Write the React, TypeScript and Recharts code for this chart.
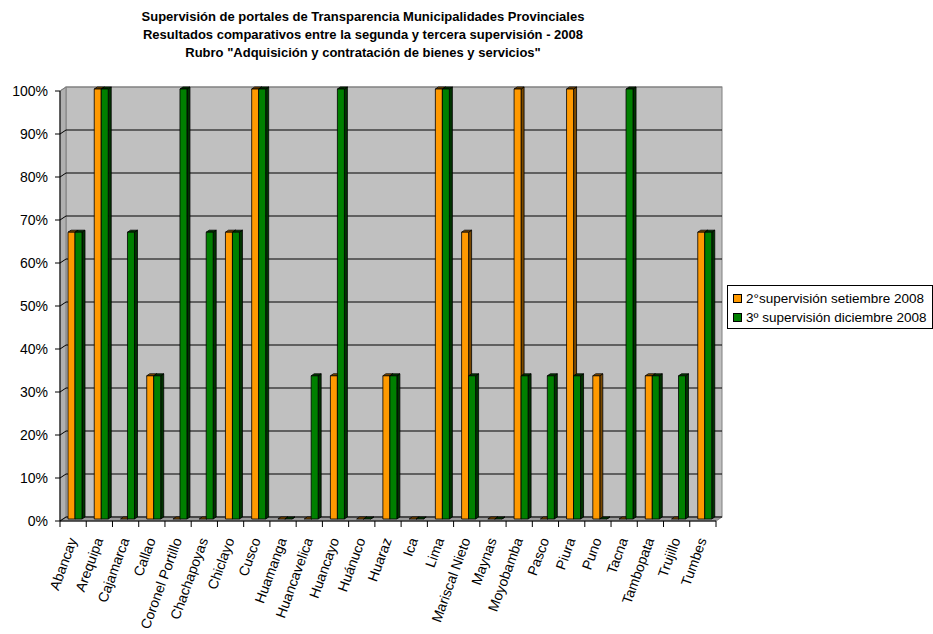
import { Bar, BarChart, CartesianGrid, Legend, XAxis, YAxis } from "recharts"

const categories = [
  "Abancay", "Arequipa", "Cajamarca", "Callao", "Coronel Portillo", "Chachapoyas", "Chiclayo",
  "Cusco", "Huamanga", "Huancavelica", "Huancayo", "Huánuco", "Huaraz", "Ica", "Lima",
  "Mariscal Nieto", "Maynas", "Moyobamba", "Pasco", "Piura", "Puno", "Tacna", "Tambopata",
  "Trujillo", "Tumbes",
]

// 2da supervisión (setiembre 2008)
const segunda = [
  0.667, 1, 0, 0.333, 0, 0, 0.667, 1, 0, 0, 0.333, 0, 0.333, 0, 1,
  0.667, 0, 1, 0, 1, 0.333, 0, 0.333, 0, 0.667,
]

// 3ra supervisión (diciembre 2008)
const tercera = [
  0.667, 1, 0.667, 0.333, 1, 0.667, 0.667, 1, 0, 0.333, 1, 0, 0.333, 0, 1,
  0.333, 0, 0.333, 0.333, 0.333, 0, 1, 0.333, 0.333, 0.667,
]

const seriesNames = ["2°supervisión setiembre 2008", "3º supervisión diciembre 2008"]
const yTicks = [0, 0.1, 0.2, 0.3, 0.4, 0.5, 0.6, 0.7, 0.8, 0.9, 1]
const titleLines = [
  "Supervisión de portales de Transparencia Municipalidades Provinciales",
  "Resultados comparativos entre la segunda y tercera supervisión - 2008",
  "Rubro \"Adquisición y contratación de bienes y servicios\"",
]

const data = categories.map((name, i) => ({ name, segunda: segunda[i], tercera: tercera[i] }))

const FONT = "'Liberation Sans', Arial, sans-serif"
const W = 933
const H = 634
// front plot box
const LEFT = 60
const RIGHT = 716
const TOP = 91
const BOTTOM = 521
// wall depth
const DX = 6
const DY = 4

const colors = [
  { front: "#FF9900", side: "#7A4900", top: "#8C5400" },
  { front: "#008000", side: "#003300", top: "#004000" },
]

// back wall, side wall and floor sit in an svg under the chart
function Walls() {
  return (
    <svg width={W} height={H} style={{ position: "absolute", left: 0, top: 0 }}>
      <rect x={LEFT + DX} y={TOP - DY} width={RIGHT - LEFT} height={BOTTOM - TOP} fill="#C0C0C0" stroke="#808080" />
      <polygon
        points={`${LEFT},${TOP} ${LEFT + DX},${TOP - DY} ${LEFT + DX},${BOTTOM - DY} ${LEFT},${BOTTOM}`}
        fill="#B0B0B0"
        stroke="#808080"
      />
      <polygon
        points={`${LEFT},${BOTTOM} ${LEFT + DX},${BOTTOM - DY} ${RIGHT + DX},${BOTTOM - DY} ${RIGHT},${BOTTOM}`}
        fill="#9A9A9A"
        stroke="#808080"
      />
      {titleLines.map((t, i) => (
        <text key={i} x={363} y={21 + i * 18} textAnchor="middle" fontFamily={FONT} fontSize={13} fontWeight="bold" fill="#000">
          {t}
        </text>
      ))}
    </svg>
  )
}

function GridLine(props: any) {
  const { x1, y1, x2, y2 } = props
  const stroke = y1 < TOP + 2 ? "#808080" : "#000"
  return (
    <polyline
      points={`${x1},${y1} ${x1 + DX},${y1 - DY} ${x2 + DX},${y2 - DY}`}
      fill="none"
      stroke={stroke}
      strokeWidth={1}
    />
  )
}

function Bar3D(props: any) {
  const { x, y, width, height, c } = props
  if (x == null || y == null) return null
  const fx = x + 2
  const fy = y - 2
  const d = 3
  const dd = 2
  return (
    <g stroke="#000" strokeWidth={0.8} strokeLinejoin="round">
      <polygon
        points={`${fx + width},${fy} ${fx + width + d},${fy - dd} ${fx + width + d},${fy + height - dd} ${fx + width},${fy + height}`}
        fill={c.side}
      />
      <polygon
        points={`${fx},${fy} ${fx + d},${fy - dd} ${fx + width + d},${fy - dd} ${fx + width},${fy}`}
        fill={c.top}
      />
      {height > 0 && <rect x={fx} y={fy} width={width} height={height} fill={c.front} />}
    </g>
  )
}

function CatTick(props: any) {
  const { x, payload } = props
  const half = payload && payload.offset ? payload.offset : (RIGHT - LEFT) / categories.length / 2
  const last = payload.index === categories.length - 1
  return (
    <g>
      <line x1={x - half} y1={BOTTOM} x2={x - half} y2={BOTTOM + 6} stroke="#000" />
      {last && <line x1={x + half} y1={BOTTOM} x2={x + half} y2={BOTTOM + 6} stroke="#000" />}
      <text
        transform={`translate(${x + 4},${BOTTOM + 19}) rotate(-70)`}
        textAnchor="end"
        fontFamily={FONT}
        fontSize={14}
        fill="#000"
      >
        {payload.value}
      </text>
    </g>
  )
}

function LegendBox() {
  return (
    <div
      style={{
        boxSizing: "border-box",
        width: 206,
        height: 44,
        border: "1px solid #000",
        background: "#fff",
        padding: "3px 0 0 5px",
        fontFamily: FONT,
        fontSize: 13.5,
        color: "#000",
      }}
    >
      {seriesNames.map((n, i) => (
        <div key={n} style={{ display: "flex", alignItems: "center", height: 19, whiteSpace: "nowrap" }}>
          <span
            style={{
              display: "inline-block",
              width: 7,
              height: 7,
              border: "1px solid #000",
              background: colors[i].front,
              marginRight: 4,
            }}
          />
          {n}
        </div>
      ))}
    </div>
  )
}

export default function App() {
  return (
    <div style={{ position: "absolute", left: 0, top: 0, width: W, height: H, background: "#fff" }}>
      <Walls />
      <div style={{ position: "absolute", left: 0, top: 0 }}>
        <BarChart
          width={W}
          height={H}
          data={data}
          margin={{ top: TOP, right: 11, bottom: 0, left: 0 }}
          barGap={0}
          barSize={7}
        >
          <CartesianGrid vertical={false} horizontal={(p: any) => <GridLine {...p} />} />
          <XAxis
            dataKey="name"
            interval={0}
            height={H - BOTTOM}
            tickLine={false}
            axisLine={{ stroke: "#000" }}
            tick={<CatTick />}
          />
          <YAxis
            width={LEFT}
            type="number"
            domain={[0, 1]}
            ticks={yTicks}
            interval={0}
            tickFormatter={(v: number) => `${Math.round(v * 100)}%`}
            tick={{ fill: "#000", fontSize: 14, fontFamily: FONT }}
            tickLine={{ stroke: "#000" }}
            axisLine={{ stroke: "#000" }}
            tickSize={5}
            tickMargin={7}
          />
          <Legend
            layout="vertical"
            align="right"
            verticalAlign="middle"
            width={206}
            wrapperStyle={{ left: 727, top: 285 }}
            content={() => <LegendBox />}
          />
          <Bar dataKey="segunda" name={seriesNames[0]} isAnimationActive={false} shape={(p: any) => <Bar3D {...p} c={colors[0]} />} />
          <Bar dataKey="tercera" name={seriesNames[1]} isAnimationActive={false} shape={(p: any) => <Bar3D {...p} c={colors[1]} />} />
        </BarChart>
      </div>
    </div>
  )
}
